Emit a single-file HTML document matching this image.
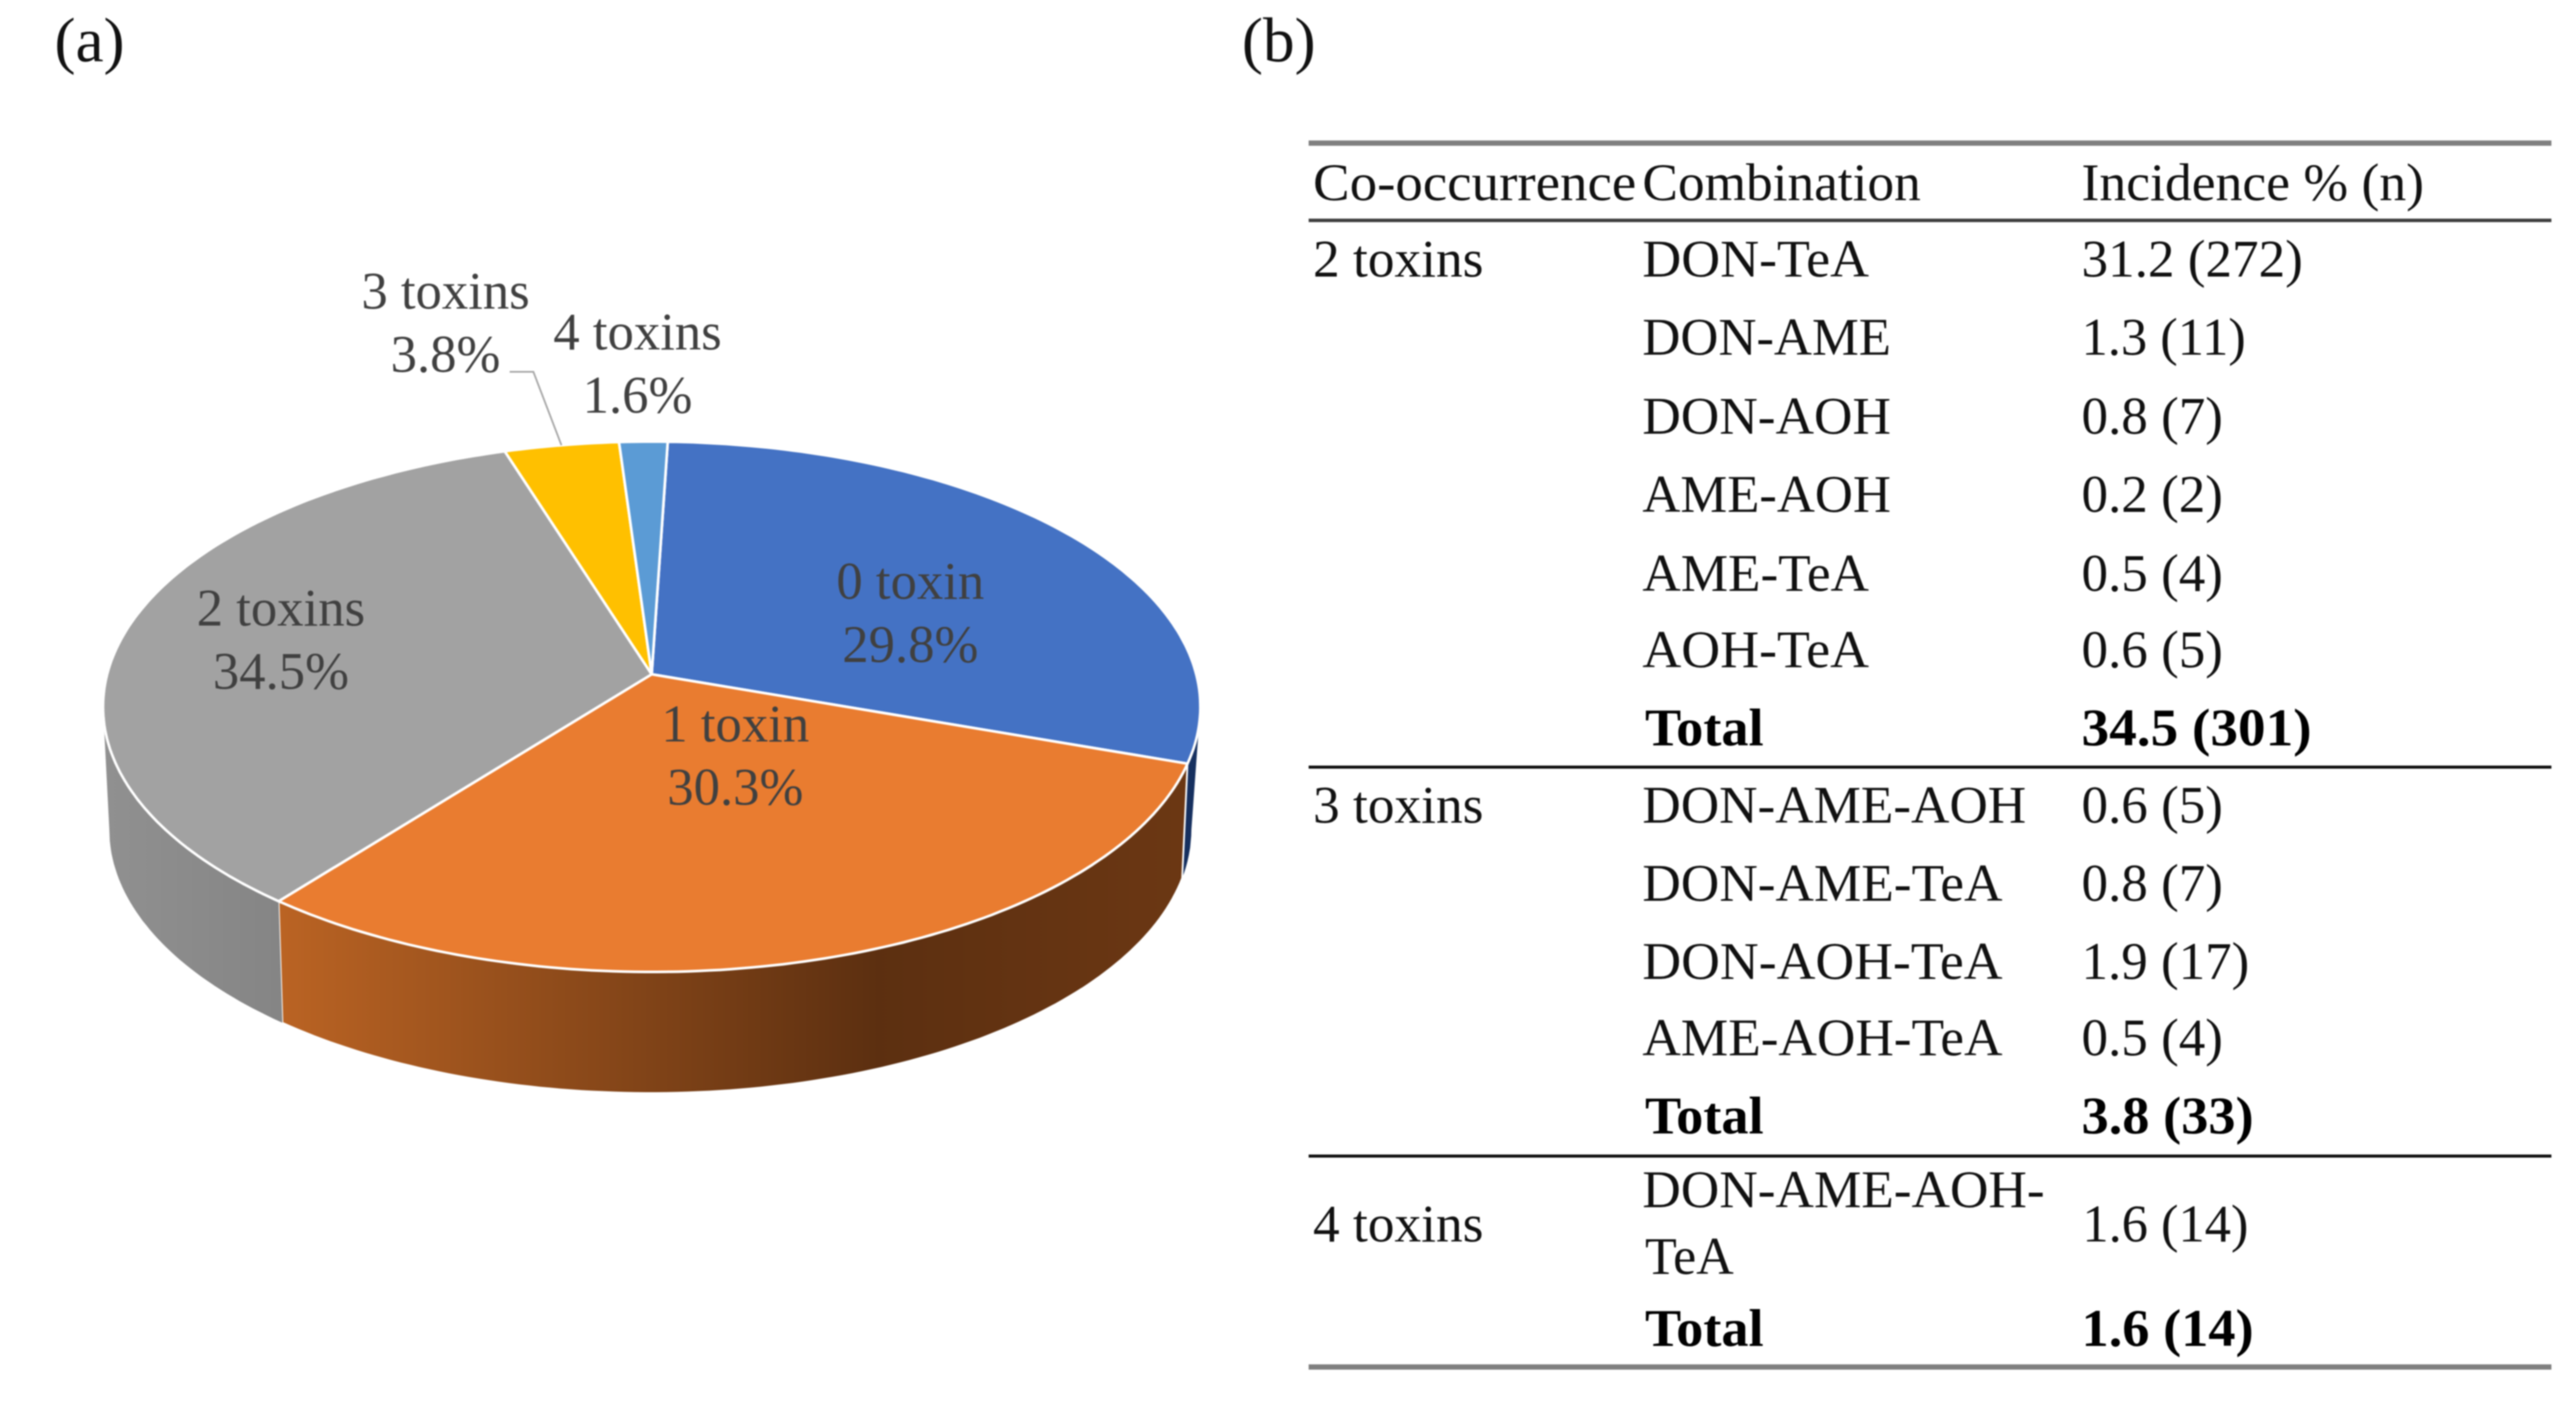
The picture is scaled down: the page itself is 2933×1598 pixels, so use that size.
<!DOCTYPE html>
<html lang="en">
<head>
<meta charset="utf-8">
<title>Toxin co-occurrence pie chart and table</title>
<style>
html,body{margin:0;padding:0;background:#fff;width:2933px;height:1598px;overflow:hidden}
svg{display:block;filter:blur(0.8px)}
text{font-family:"Liberation Serif",serif;font-size:60px;fill:#111}
.b{font-weight:bold;fill:#000}
.pie-label{fill:#404040;text-anchor:middle}
.panel{font-size:72px}
</style>
</head>
<body>
<svg id="figure" xmlns="http://www.w3.org/2000/svg" width="2933" height="1598" viewBox="0 0 2933 1598">
  <defs>
    <linearGradient id="orangeWall" gradientUnits="userSpaceOnUse" x1="319" y1="0" x2="1350" y2="0">
      <stop offset="0" stop-color="#BA6323"/><stop offset="0.66" stop-color="#5C2F10"/><stop offset="1" stop-color="#6B3713"/>
    </linearGradient>
    <linearGradient id="grayWall" gradientUnits="userSpaceOnUse" x1="117" y1="0" x2="330" y2="0">
      <stop offset="0" stop-color="#909090"/><stop offset="1" stop-color="#848484"/>
    </linearGradient>
  </defs>

  <text class="panel" x="62" y="70">(a)</text>
  <text class="panel" x="1414" y="70">(b)</text>

  <g id="pie"></g>

  <g>
    <rect x="1490" y="160" width="1415" height="6" fill="#808080"/>
    <rect x="1490" y="249" width="1415" height="4" fill="#404040"/>
    <rect x="1490" y="872" width="1415" height="3.5" fill="#111"/>
    <rect x="1490" y="1315" width="1415" height="3.5" fill="#111"/>
    <rect x="1490" y="1554" width="1415" height="6" fill="#808080"/>

    <text x="1495" y="228" textLength="368" lengthAdjust="spacingAndGlyphs">Co-occurrence</text>
    <text x="1870" y="228" textLength="317" lengthAdjust="spacingAndGlyphs">Combination</text>
    <text x="2370" y="228" textLength="390" lengthAdjust="spacingAndGlyphs">Incidence % (n)</text>

    <text x="1495" y="315" textLength="194" lengthAdjust="spacingAndGlyphs">2 toxins</text>
    <text x="1870" y="315" textLength="258" lengthAdjust="spacingAndGlyphs">DON-TeA</text>
    <text x="2370" y="315" textLength="252" lengthAdjust="spacingAndGlyphs">31.2 (272)</text>
    <text x="1870" y="404" textLength="283" lengthAdjust="spacingAndGlyphs">DON-AME</text>
    <text x="2370" y="404" textLength="187" lengthAdjust="spacingAndGlyphs">1.3 (11)</text>
    <text x="1870" y="494" textLength="283" lengthAdjust="spacingAndGlyphs">DON-AOH</text>
    <text x="2370" y="494" textLength="161" lengthAdjust="spacingAndGlyphs">0.8 (7)</text>
    <text x="1870" y="583" textLength="283" lengthAdjust="spacingAndGlyphs">AME-AOH</text>
    <text x="2370" y="583" textLength="161" lengthAdjust="spacingAndGlyphs">0.2 (2)</text>
    <text x="1870" y="673" textLength="258" lengthAdjust="spacingAndGlyphs">AME-TeA</text>
    <text x="2370" y="673" textLength="161" lengthAdjust="spacingAndGlyphs">0.5 (4)</text>
    <text x="1870" y="760" textLength="258" lengthAdjust="spacingAndGlyphs">AOH-TeA</text>
    <text x="2370" y="760" textLength="161" lengthAdjust="spacingAndGlyphs">0.6 (5)</text>
    <text class="b" x="1873" y="849" textLength="135" lengthAdjust="spacingAndGlyphs">Total</text>
    <text class="b" x="2370" y="849" textLength="262" lengthAdjust="spacingAndGlyphs">34.5 (301)</text>

    <text x="1495" y="937" textLength="194" lengthAdjust="spacingAndGlyphs">3 toxins</text>
    <text x="1870" y="937" textLength="437" lengthAdjust="spacingAndGlyphs">DON-AME-AOH</text>
    <text x="2370" y="937" textLength="161" lengthAdjust="spacingAndGlyphs">0.6 (5)</text>
    <text x="1870" y="1026" textLength="410" lengthAdjust="spacingAndGlyphs">DON-AME-TeA</text>
    <text x="2370" y="1026" textLength="161" lengthAdjust="spacingAndGlyphs">0.8 (7)</text>
    <text x="1870" y="1115" textLength="410" lengthAdjust="spacingAndGlyphs">DON-AOH-TeA</text>
    <text x="2370" y="1115" textLength="191" lengthAdjust="spacingAndGlyphs">1.9 (17)</text>
    <text x="1870" y="1202" textLength="410" lengthAdjust="spacingAndGlyphs">AME-AOH-TeA</text>
    <text x="2370" y="1202" textLength="161" lengthAdjust="spacingAndGlyphs">0.5 (4)</text>
    <text class="b" x="1873" y="1291" textLength="135" lengthAdjust="spacingAndGlyphs">Total</text>
    <text class="b" x="2370" y="1291" textLength="196" lengthAdjust="spacingAndGlyphs">3.8 (33)</text>

    <text x="1495" y="1414" textLength="194" lengthAdjust="spacingAndGlyphs">4 toxins</text>
    <text x="1870" y="1375" textLength="458" lengthAdjust="spacingAndGlyphs">DON-AME-AOH-</text>
    <text x="1873" y="1451" textLength="101" lengthAdjust="spacingAndGlyphs">TeA</text>
    <text x="2371" y="1414" textLength="189" lengthAdjust="spacingAndGlyphs">1.6 (14)</text>
    <text class="b" x="1873" y="1533" textLength="135" lengthAdjust="spacingAndGlyphs">Total</text>
    <text class="b" x="2370" y="1533" textLength="196" lengthAdjust="spacingAndGlyphs">1.6 (14)</text>
  </g>
</svg>

<script>
const categories = ["0 toxin", "1 toxin", "2 toxins", "3 toxins", "4 toxins"];
const percentValues = [29.8, 30.3, 34.5, 3.8, 1.6];

(function () {
  const NS = "http://www.w3.org/2000/svg";
  const pie = document.getElementById("pie");
  const topColors = ["#4472C4", "#E97C30", "#A2A2A2", "#FFC000", "#5B9BD5"];
  const wallFills = ["#16305F", "url(#orangeWall)", "url(#grayWall)", "#7F6000", "#2E75B6"];
  const labelRadius = [0.6, 0.6, 0.6, 1.2, 1.2];
  const labelShift = [[0, 47], [-17, -72], [-61, 12], [-114, -74], [-5, -23]];
  const CX = 742, CY = 768, RX = 620, RY = 297.5, K = 0.1225, START = 1.9;
  const BASE_CX = 740.5, BASE_CY = 945, BASE_RX = 616, BASE_RY = 300;
  const total = percentValues.reduce(function (a, b) { return a + b; }, 0);

  function project(deg, r) {
    const t = deg * Math.PI / 180;
    const u = r * Math.sin(t), v = -r * Math.cos(t), w = 1 - K * v;
    return [CX + RX * u / w, CY + RY * v / w];
  }
  function lower(p) {
    let q = (CX + 0.99 * (p[0] - CX) - BASE_CX) / BASE_RX;
    q = Math.max(-1, Math.min(1, q));
    return [BASE_CX + BASE_RX * q, BASE_CY + BASE_RY * Math.sqrt(1 - q * q)];
  }
  function arc(a, b) {
    const pts = [];
    const n = Math.max(2, Math.ceil(Math.abs(b - a)));
    for (let i = 0; i <= n; i++) pts.push(project(a + (b - a) * i / n, 1));
    return pts;
  }
  function toPath(pts) {
    return "M" + pts.map(function (p) { return p[0].toFixed(1) + " " + p[1].toFixed(1); }).join("L") + "Z";
  }

  const spans = [];
  let cursor = START;
  percentValues.forEach(function (v) {
    const sweep = v / total * 360;
    spans.push([cursor, cursor + sweep]);
    cursor += sweep;
  });

  spans.forEach(function (s, i) {
    const a = Math.max(s[0], 97), b = Math.min(s[1], 263);
    if (b <= a) return;
    const topArc = arc(a, b);
    const bottomArc = topArc.map(lower).reverse();
    const wall = document.createElementNS(NS, "path");
    wall.setAttribute("d", toPath(topArc.concat(bottomArc)));
    wall.setAttribute("fill", wallFills[i]);
    wall.setAttribute("stroke", i === 1 ? "#fff" : "none");
    wall.setAttribute("stroke-width", "2");
    
    
    pie.appendChild(wall);
  });

  spans.forEach(function (s, i) {
    const slice = document.createElementNS(NS, "path");
    slice.setAttribute("d", toPath([[CX, CY]].concat(arc(s[0], s[1]))));
    slice.setAttribute("fill", topColors[i]);
    slice.setAttribute("stroke", "#fff");
    slice.setAttribute("stroke-width", "3");
    slice.setAttribute("stroke-linejoin", "round");
    
    
    pie.appendChild(slice);
  });

  spans.forEach(function (s, i) {
    const mid = (s[0] + s[1]) / 2;
    const anchor = project(mid, labelRadius[i]);
    const x = anchor[0] + labelShift[i][0];
    const y = anchor[1] + labelShift[i][1];

    const name = document.createElementNS(NS, "text");
    name.setAttribute("class", "pie-label");
    name.setAttribute("x", x);
    name.setAttribute("y", y - 36);
    name.textContent = categories[i];
    
    
    pie.appendChild(name);

    const value = document.createElementNS(NS, "text");
    value.setAttribute("class", "pie-label");
    value.setAttribute("x", x);
    value.setAttribute("y", y + 36);
    value.textContent = percentValues[i].toFixed(1) + "%";
    
    
    pie.appendChild(value);

    if (i === 3) {
      const end = project(mid, 1);
      const leader = document.createElementNS(NS, "polyline");
      leader.setAttribute("points", (x + 73) + "," + (y + 36) + " " + (x + 100) + "," + (y + 36) + " " + end[0] + "," + end[1]);
      leader.setAttribute("fill", "none");
      leader.setAttribute("stroke", "#A6A6A6");
      leader.setAttribute("stroke-width", "2");
      
      
      pie.appendChild(leader);
    }
  });
})();
</script>
</body>
</html>
